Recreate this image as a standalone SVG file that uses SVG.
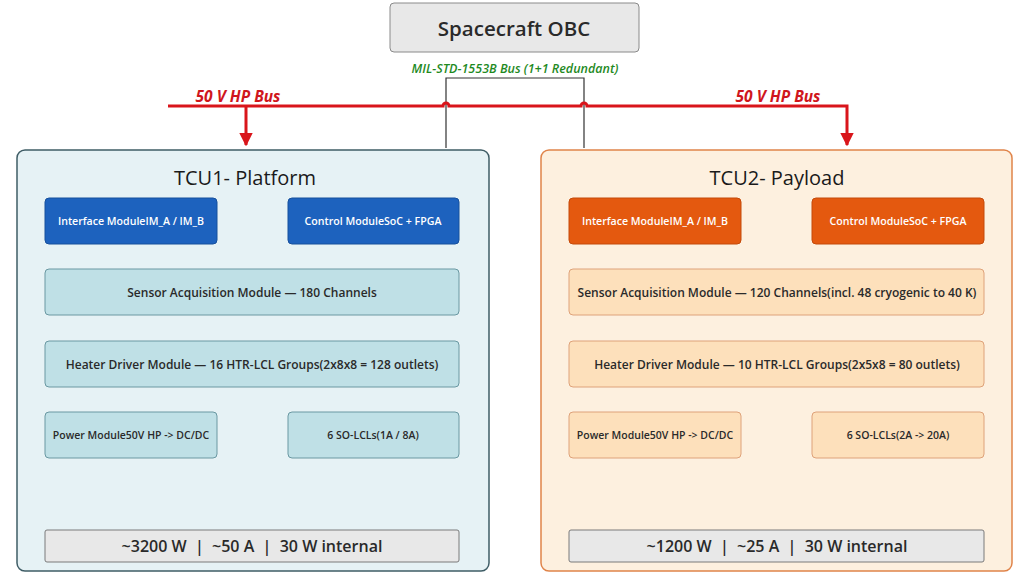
<svg xmlns="http://www.w3.org/2000/svg" width="1024" height="576" viewBox="0 0 1024 576">
<style>
text{font-family:"Open Sans","Noto Sans","Liberation Sans",sans-serif;text-anchor:middle;dominant-baseline:central}
.obc{fill:#e8e8e8;stroke:#8a8a8a;stroke-width:1}
.tcu1{fill:#e6f2f5;stroke:#3f5d66;stroke-width:1.5}
.tcu2{fill:#fdf0df;stroke:#e0844a;stroke-width:1.5}
.blue{fill:#1d62be;stroke:#17509c;stroke-width:1}
.orange{fill:#e4590f;stroke:#c44a0a;stroke-width:1}
.lb{fill:#bfe0e6;stroke:#6a98a2;stroke-width:1}
.lo{fill:#fde0bb;stroke:#dea27a;stroke-width:1}
.sum{fill:#e8e8e8;stroke:#7a7a7a;stroke-width:1}
.wt{fill:#ffffff;font-size:10.6px;font-weight:600}
.dt{fill:#2a2a2a;font-size:12px;font-weight:600}
.st{fill:#2a2a2a;font-size:10.5px;font-weight:600}
.ttl{fill:#1a1a1a;font-size:20px}
.sm{fill:#2a2a2a;font-size:16px;font-weight:600;white-space:pre}
.hp{fill:#d0161c;font-size:15.5px;font-weight:700;font-style:italic}
.pw{fill:none;stroke:#d9151b;stroke-width:3}
.sig{fill:none;stroke:#333333;stroke-width:1.2}
</style>
<defs>
<marker id="ah" viewBox="0 0 10 10" refX="9" refY="5" markerWidth="4.5" markerHeight="4.5" orient="auto" markerUnits="strokeWidth">
<path d="M0,0 L10,5 L0,10 z" fill="#d9151b"/>
</marker>
</defs>

<g id="tcu1">
<rect class="tcu1" x="17" y="150" width="472" height="421" rx="8"/>
<text class="ttl" x="245" y="177">TCU1- Platform</text>
</g>
<g id="tcu2">
<rect class="tcu2" x="541" y="150" width="471" height="421" rx="8"/>
<text class="ttl" x="777" y="177">TCU2- Payload</text>
</g>

<g id="connectors">
<path class="sig" d="M446,148 V78 H584 V148"/>
<path class="pw" d="M168,106 H443 A3,3 0 0 1 449,106 H581 A3,3 0 0 1 587,106 H847 V145" marker-end="url(#ah)"/>
<path class="pw" d="M246,106 V145" marker-end="url(#ah)"/>
<text class="hp" x="238" y="96">50 V HP Bus</text>
<text class="hp" x="778" y="96">50 V HP Bus</text>
<text x="515" y="68" style="fill:#1f8a1f;font-size:12.5px;font-style:italic;font-weight:600">MIL-STD-1553B Bus (1+1 Redundant)</text>
</g>

<g id="obc">
<rect class="obc" x="390" y="3" width="249" height="49" rx="4"/>
<text x="514" y="28" style="fill:#2a2a2a;font-size:20.5px;font-weight:600">Spacecraft OBC</text>
</g>

<g id="tcu1-interface">
<rect class="blue" x="45" y="198" width="172" height="46" rx="4"/>
<text class="wt" x="131" y="221">Interface ModuleIM_A / IM_B</text>
</g>
<g id="tcu1-control">
<rect class="blue" x="288" y="198" width="171" height="46" rx="4"/>
<text class="wt" x="373" y="221">Control ModuleSoC + FPGA</text>
</g>
<g id="tcu1-sensor">
<rect class="lb" x="45" y="269" width="414" height="46" rx="4"/>
<text class="dt" x="252" y="292">Sensor Acquisition Module — 180 Channels</text>
</g>
<g id="tcu1-heater">
<rect class="lb" x="45" y="341" width="414" height="46" rx="4"/>
<text class="dt" x="252" y="364">Heater Driver Module — 16 HTR-LCL Groups(2x8x8 = 128 outlets)</text>
</g>
<g id="tcu1-power">
<rect class="lb" x="45" y="412" width="172" height="46" rx="4"/>
<text class="st" x="131" y="435">Power Module50V HP -&gt; DC/DC</text>
</g>
<g id="tcu1-solcl">
<rect class="lb" x="288" y="412" width="171" height="46" rx="4"/>
<text class="st" x="373" y="435">6 SO-LCLs(1A / 8A)</text>
</g>
<g id="tcu1-summary">
<rect class="sum" x="45" y="530" width="414" height="32" rx="2"/>
<text class="sm" x="252" y="546">~3200 W  |  ~50 A  |  30 W internal</text>
</g>

<g id="tcu2-interface">
<rect class="orange" x="569" y="198" width="172" height="46" rx="4"/>
<text class="wt" x="655" y="221">Interface ModuleIM_A / IM_B</text>
</g>
<g id="tcu2-control">
<rect class="orange" x="812" y="198" width="172" height="46" rx="4"/>
<text class="wt" x="898" y="221">Control ModuleSoC + FPGA</text>
</g>
<g id="tcu2-sensor">
<rect class="lo" x="569" y="269" width="415" height="46" rx="4"/>
<text class="dt" x="777" y="292">Sensor Acquisition Module — 120 Channels(incl. 48 cryogenic to 40 K)</text>
</g>
<g id="tcu2-heater">
<rect class="lo" x="569" y="341" width="415" height="46" rx="4"/>
<text class="dt" x="777" y="364">Heater Driver Module — 10 HTR-LCL Groups(2x5x8 = 80 outlets)</text>
</g>
<g id="tcu2-power">
<rect class="lo" x="569" y="412" width="172" height="46" rx="4"/>
<text class="st" x="655" y="435">Power Module50V HP -&gt; DC/DC</text>
</g>
<g id="tcu2-solcl">
<rect class="lo" x="812" y="412" width="172" height="46" rx="4"/>
<text class="st" x="898" y="435">6 SO-LCLs(2A -&gt; 20A)</text>
</g>
<g id="tcu2-summary">
<rect class="sum" x="569" y="530" width="415" height="32" rx="2"/>
<text class="sm" x="777" y="546">~1200 W  |  ~25 A  |  30 W internal</text>
</g>
</svg>
